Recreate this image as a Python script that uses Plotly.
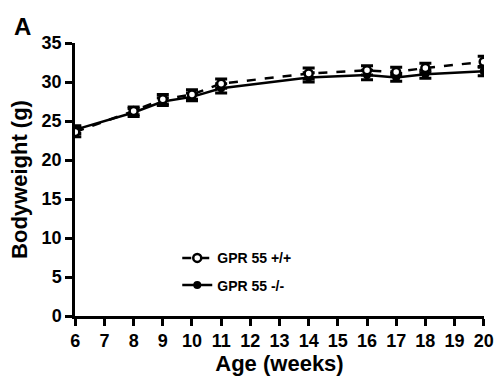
import plotly.graph_objects as go

age = [6, 8, 9, 10, 11, 14, 16, 17, 18, 20]
wt_mean = [23.6, 26.3, 27.8, 28.4, 29.8, 31.1, 31.5, 31.3, 31.8, 32.6]
wt_err = [0.6, 0.5, 0.6, 0.6, 0.6, 0.7, 0.6, 0.6, 0.6, 0.7]
ko_mean = [23.9, 26.1, 27.5, 28.1, 29.2, 30.6, 30.9, 30.6, 31.0, 31.4]
ko_err = [0.5, 0.5, 0.5, 0.5, 0.6, 0.6, 0.6, 0.5, 0.5, 0.6]
x_ticks = list(range(6, 21))
y_ticks = [0, 5, 10, 15, 20, 25, 30, 35]

FONT = "Liberation Sans, Arial, sans-serif"

fig = go.Figure()
fig.add_trace(go.Scatter(
    x=age, y=ko_mean, name="GPR 55 -/-", mode="lines+markers",
    line=dict(color="black", width=2.5),
    marker=dict(symbol="circle", size=8, color="black"),
    error_y=dict(type="data", array=ko_err, color="black", thickness=3, width=6),
    legendgroup="b", legendrank=2,
))
fig.add_trace(go.Scatter(
    x=age, y=wt_mean, name="GPR 55 +/+", mode="lines+markers",
    line=dict(color="black", width=2.5, dash="dash"),
    marker=dict(symbol="circle", size=8, color="white", line=dict(color="black", width=2.5)),
    error_y=dict(type="data", array=wt_err, color="black", thickness=3, width=6),
    legendgroup="a", legendrank=1,
))

axis_common = dict(
    showline=True, linecolor="black", linewidth=2.5,
    ticks="outside", ticklen=7, tickwidth=2.5, tickcolor="black",
    showgrid=False, zeroline=False, automargin=False,
    tickfont=dict(family=FONT, size=18, color="black", weight="bold"),
)

fig.update_layout(
    width=502, height=383,
    margin=dict(l=75, r=18, t=43, b=67),
    plot_bgcolor="white", paper_bgcolor="white",
    xaxis=dict(range=[5.99, 20.01], tickvals=x_ticks, ticktext=[str(v) for v in x_ticks],
               title=dict(text="Age (weeks)", font=dict(family=FONT, size=22, color="black", weight="bold"), standoff=1),
               **axis_common),
    yaxis=dict(range=[0, 35.01], tickvals=y_ticks,
               title=dict(text="Bodyweight (g)", font=dict(family=FONT, size=22, color="black", weight="bold"), standoff=8),
               **axis_common),
    showlegend=True,
    legend=dict(x=0.25, y=0.27, xanchor="left", yanchor="top",
                bgcolor="rgba(0,0,0,0)", tracegroupgap=6,
                font=dict(family=FONT, size=14, color="black", weight="bold")),
    annotations=[dict(text="A", xref="paper", yref="paper", x=-0.155, y=1.062,
                      xanchor="left", yanchor="middle", showarrow=False,
                      font=dict(family=FONT, size=24, color="black", weight="bold"))],
)

fig.write_html("out.html", config={"displayModeBar": False},
               post_script="document.body.style.margin='0';")
